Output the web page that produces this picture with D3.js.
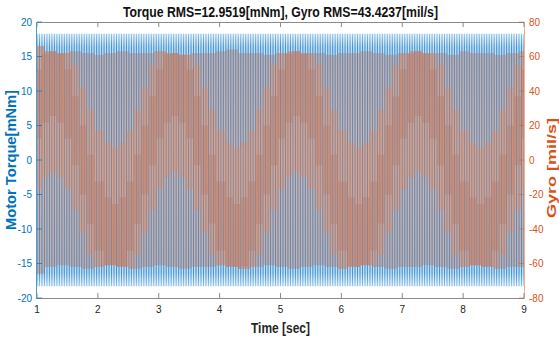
<!DOCTYPE html>
<html><head><meta charset="utf-8">
<script src="https://cdn.jsdelivr.net/npm/d3@7"></script>
<style>body{margin:0;background:#fff} text{font-family:Arial,"Liberation Sans",Helvetica,sans-serif}</style>
</head><body><svg id="c" width="559" height="340"></svg>
<script>
const timeTicks=[1,2,3,4,5,6,7,8,9];
const torqueTicks=[-20,-15,-10,-5,0,5,10,15,20];
const gyroTicks=[-80,-60,-40,-20,0,20,40,60,80];
const titleText="Torque RMS=12.9519[mNm], Gyro RMS=43.4237[mil/s]";
const cyclesPerSecond=24.5;
// torque oscillation peaks per 1 s segment (mNm)
const torquePeakHi=[18.3,18.3,18.3,18.3,18.3,18.3,18.3,18.3];
const torquePeakLo=[-18.3,-18.3,-18.3,-18.3,-18.3,-18.3,-18.3,-18.3];
// gyro extremes every 0.2 s (mil/s)
const gyroHi=[66,63,62,63,62,61,62,63,62,62,63,62,61,62,62,63,64,62,62,61,62,63,62,62,61,62,62,63,62,61,62,63,62,62,61,63,62,62,61,62,63];
const gyroLo=[-66,-62,-61,-62,-63,-62,-61,-62,-63,-62,-61,-62,-63,-62,-62,-61,-62,-63,-62,-61,-62,-63,-62,-61,-62,-63,-62,-61,-62,-63,-62,-62,-61,-62,-63,-62,-61,-62,-63,-62,-62];
// slow gyro bias every 0.125 s (mil/s)
const gyroBias=[25,32,35,32,25,13,0,-13,-25,-32,-35,-32,-25,-13,0,13,25,32,35,32,25,13,0,-13,-25,-32,-35,-32,-25,-13,0,13,25,32,35,32,25,13,0,-13,-25,-32,-35,-32,-25,-13,0,13,25,32,35,32,25,13,0,-13,-25,-32,-35,-32,-25,-13,0,13,25];

const svg=d3.select("#c");
const L=37,R=524,T=22,B=298;
const x=d3.scaleLinear([1,9],[L,R]);
const yL=d3.scaleLinear([-20,20],[B,T]);
const yR=d3.scaleLinear([-80,80],[B,T]);
const BLUE="#0072BD",ORANGE="#D95319",GRAY="#262626";

const defs=svg.append("defs");
function grad(id,stops){
  const g=defs.append("linearGradient").attr("id",id).attr("gradientUnits","userSpaceOnUse")
   .attr("x1",0).attr("x2",0).attr("y1",yL(18.3)).attr("y2",yL(-18.3));
  stops.forEach(s=>g.append("stop").attr("offset",s[0]).attr("stop-color",s[1]));
}
grad("halo",[[0,"#eaf4fc"],[0.06,"#b6d9f3"],[0.5,"#c6e0f5"],[0.94,"#b6d9f3"],[1,"#eaf4fc"]]);
grad("core",[[0,"#8cc0e8"],[0.05,"#3587ca"],[0.5,"#3587ca"],[0.95,"#3587ca"],[1,"#8cc0e8"]]);

const n=Math.floor(8*cyclesPerSecond);
const stripes=d3.range(n+1).map(i=>{
  const t=1+i/cyclesPerSecond;
  const s=Math.min(7,Math.floor(t-1));
  return {t,hi:torquePeakHi[s],lo:torquePeakLo[s],
    gh:gyroHi[Math.round((t-1)/0.2)],gl:gyroLo[Math.round((t-1)/0.2)],
    b:gyroBias[Math.round((t-1)/0.125)]};
});
svg.append("clipPath").attr("id","pc").append("rect").attr("x",L).attr("y",T).attr("width",R-L).attr("height",B-T);
const plot=svg.append("g").attr("clip-path","url(#pc)");
plot.append("g").selectAll("line").data(stripes).join("line")
 .attr("x1",d=>x(d.t)).attr("x2",d=>x(d.t)).attr("y1",d=>yL(d.hi)).attr("y2",d=>yL(d.lo))
 .attr("stroke","url(#halo)").attr("stroke-width",2.6);
plot.append("g").selectAll("line").data(stripes).join("line")
 .attr("x1",d=>x(d.t)).attr("x2",d=>x(d.t)).attr("y1",d=>yL(d.hi)).attr("y2",d=>yL(d.lo))
 .attr("stroke","url(#core)").attr("stroke-width",0.9);
const off=0.5/cyclesPerSecond;
const cl=(v,d)=>Math.max(d.gl,Math.min(d.gh,v));
plot.append("g").selectAll("line").data(stripes).join("line")
 .attr("x1",d=>x(d.t+off)).attr("x2",d=>x(d.t+off)).attr("y1",d=>yR(d.gh)).attr("y2",d=>yR(d.gl))
 .attr("stroke","#b07868").attr("stroke-width",2.6).attr("stroke-opacity",0.42);
plot.append("g").selectAll("line").data(stripes).join("line")
 .attr("x1",d=>x(d.t+off)).attr("x2",d=>x(d.t+off)).attr("y1",d=>yR(cl(d.b+42,d))).attr("y2",d=>yR(cl(d.b-42,d)))
 .attr("stroke","#ec8a5e").attr("stroke-width",2).attr("stroke-opacity",0.42);
plot.append("g").selectAll("line").data(stripes).join("line")
 .attr("x1",d=>x(d.t+off)).attr("x2",d=>x(d.t+off)).attr("y1",d=>yR(cl(d.b*1.3+20,d))).attr("y2",d=>yR(cl(d.b*1.3-20,d)))
 .attr("stroke","#c65c36").attr("stroke-width",1.4).attr("stroke-opacity",0.3);

svg.append("line").attr("x1",L).attr("x2",R).attr("y1",T+0.5).attr("y2",T+0.5).attr("stroke","#8a8a8a");
svg.append("line").attr("x1",L).attr("x2",R).attr("y1",B+0.5).attr("y2",B+0.5).attr("stroke","#8a8a8a");
svg.append("line").attr("x1",L-0.5).attr("x2",L-0.5).attr("y1",T).attr("y2",B+1).attr("stroke",BLUE).attr("stroke-opacity",0.7);
svg.append("line").attr("x1",R+0.5).attr("x2",R+0.5).attr("y1",T).attr("y2",B+1).attr("stroke",ORANGE).attr("stroke-opacity",0.45);
const gx=svg.append("g");
timeTicks.forEach(v=>{
  gx.append("line").attr("x1",x(v)).attr("x2",x(v)).attr("y1",B).attr("y2",B-5).attr("stroke","#8a8a8a");
  gx.append("line").attr("x1",x(v)).attr("x2",x(v)).attr("y1",T).attr("y2",T+5).attr("stroke","#8a8a8a");
  gx.append("text").attr("x",x(v)).attr("y",B+15).attr("text-anchor","middle").attr("font-size",10).attr("fill",GRAY).text(v);
});
torqueTicks.forEach(v=>{
  svg.append("line").attr("x1",L).attr("x2",L+5).attr("y1",yL(v)).attr("y2",yL(v)).attr("stroke",BLUE).attr("stroke-opacity",0.7);
  svg.append("text").attr("x",L-5).attr("y",yL(v)+3.5).attr("text-anchor","end").attr("font-size",10).attr("fill",BLUE).text(v);
});
gyroTicks.forEach(v=>{
  svg.append("line").attr("x1",R).attr("x2",R-5).attr("y1",yR(v)).attr("y2",yR(v)).attr("stroke",ORANGE).attr("stroke-opacity",0.5);
  svg.append("text").attr("x",R+5).attr("y",yR(v)+3.5).attr("text-anchor","start").attr("font-size",10).attr("fill",ORANGE).text(v);
});
svg.append("text").attr("x",280.5).attr("y",17).attr("text-anchor","middle").attr("font-size",14).attr("font-weight","bold").attr("fill","#111").attr("textLength",315).attr("lengthAdjust","spacingAndGlyphs").text(titleText);
svg.append("text").attr("x",280.5).attr("y",333).attr("text-anchor","middle").attr("font-size",14).attr("font-weight","bold").attr("fill",GRAY).attr("textLength",59).attr("lengthAdjust","spacingAndGlyphs").text("Time [sec]");
svg.append("text").attr("transform","translate(16,160) rotate(-90)").attr("text-anchor","middle").attr("font-size",14).attr("font-weight","bold").attr("fill",BLUE).attr("textLength",140).attr("lengthAdjust","spacingAndGlyphs").text("Motor Torque[mNm]");
svg.append("text").attr("transform","translate(555.5,168) rotate(-90)").attr("text-anchor","middle").attr("font-size",13).attr("font-weight","bold").attr("fill",ORANGE).attr("textLength",100).attr("lengthAdjust","spacingAndGlyphs").text("Gyro [mil/s]");
</script></body></html>
